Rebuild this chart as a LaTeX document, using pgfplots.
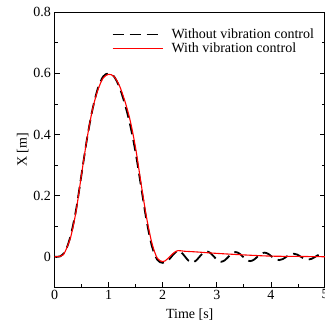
\documentclass[border=0pt]{standalone}
\usepackage{pgfplots}
\pgfplotsset{compat=1.18}
\usepackage{fontspec}
\setmainfont{Liberation Serif}
\begin{document}
\begin{tikzpicture}
\begin{axis}[name=ax,
  scale only axis, width=270.5pt, height=275pt,
  xmin=0, xmax=5, ymin=-0.1, ymax=0.8,
  xtick={0,1,2,3,4,5}, ytick={0,0.2,0.4,0.6,0.8},
  minor xtick={0.5,1.5,2.5,3.5,4.5},
  minor ytick={-0.1,0.1,0.3,0.5,0.7},
  tick align=inside, xtick pos=bottom, ytick pos=both,
  major tick length=5pt, minor tick length=3pt,
  axis line style={line width=1.1pt},
  every tick/.style={black, line width=0.8pt},
  /pgf/number format/assume math mode=true,
  /pgf/number format/fixed, /pgf/number format/precision=1,
  ticklabel style={font=\fontsize{14}{16}\selectfont},
  xticklabel style={yshift=1pt},
  xlabel={Time [s]}, ylabel={X [m]},
  label style={font=\fontsize{14}{16}\selectfont},
  xlabel style={yshift=-3pt}, ylabel style={yshift=-2pt},
  legend style={draw=none, fill=none, at={(0.975,0.955)}, anchor=north east,
    font=\fontsize{14}{15}\selectfont, row sep=-1pt, cells={anchor=west}, inner xsep=2pt},
  legend image code/.code={\draw[#1] (0pt,0pt) -- (50pt,0pt); \path (56pt,0pt);},
  legend cell align=left,
]
\addplot[black, line width=1.8pt, dash pattern=on 11pt off 6pt, smooth, tension=0.5] coordinates {
(0,0) (0.1,0.001) (0.2,0.018) (0.3,0.07) (0.4,0.155) (0.5,0.27) (0.6,0.385) (0.7,0.48) (0.8,0.55) (0.9,0.59) (1.0,0.600) (1.1,0.59) (1.2,0.555) (1.3,0.5) (1.4,0.43) (1.5,0.34) (1.6,0.23) (1.7,0.12) (1.8,0.035) (1.9,-0.01) (2.0,-0.02) (2.1,-0.012) (2.2,0.008)
(2.280,0.0200) (2.347,0.0140) (2.414,0) (2.481,-0.0135) (2.548,-0.0187) (2.614,-0.0130) (2.681,0) (2.748,0.0125) (2.815,0.0175) (2.882,0.0122) (2.949,0) (3.016,-0.0117) (3.083,-0.0164) (3.149,-0.0114) (3.216,0) (3.283,0.0110) (3.350,0.0153) (3.417,0.0107) (3.484,0) (3.551,-0.0102) (3.618,-0.0143) (3.684,-0.0100) (3.751,0) (3.818,0.0096) (3.885,0.0134) (3.952,0.0093) (4.019,0) (4.086,-0.0080) (4.153,-0.0110) (4.219,-0.0077) (4.286,0) (4.353,0.0072) (4.420,0.0100) (4.487,0.0070) (4.554,0) (4.621,-0.0068) (4.688,-0.0095) (4.754,-0.0067) (4.821,0) (4.888,0.0066) (4.955,0.0093) (5.0,0.0080)
};
\addlegendentry{Without vibration control}
\addplot[red, line width=1.1pt, smooth, tension=0.5] coordinates {
(0,0) (0.1,0.001) (0.15,0.005) (0.2,0.018) (0.3,0.065) (0.4,0.15) (0.5,0.27) (0.6,0.385) (0.7,0.48) (0.8,0.545) (0.9,0.585) (1.0,0.597) (1.1,0.59) (1.2,0.56) (1.3,0.51) (1.4,0.445) (1.5,0.355) (1.6,0.24) (1.7,0.13) (1.8,0.045) (1.9,-0.005) (2.0,-0.016) (2.05,-0.013) (2.1,-0.005) (2.2,0.012) (2.28,0.02) (2.4,0.018) (2.6,0.016) (3.0,0.011) (3.5,0.006) (4.0,0.002) (4.5,0.001) (5.0,0.0)
};
\addlegendentry{With vibration control}
\end{axis}
\pgfresetboundingbox
\path[use as bounding box] ([xshift=-54.5pt,yshift=-36pt]ax.south west) rectangle ([xshift=0pt,yshift=12.3pt]ax.north east);
\end{tikzpicture}
\end{document}
